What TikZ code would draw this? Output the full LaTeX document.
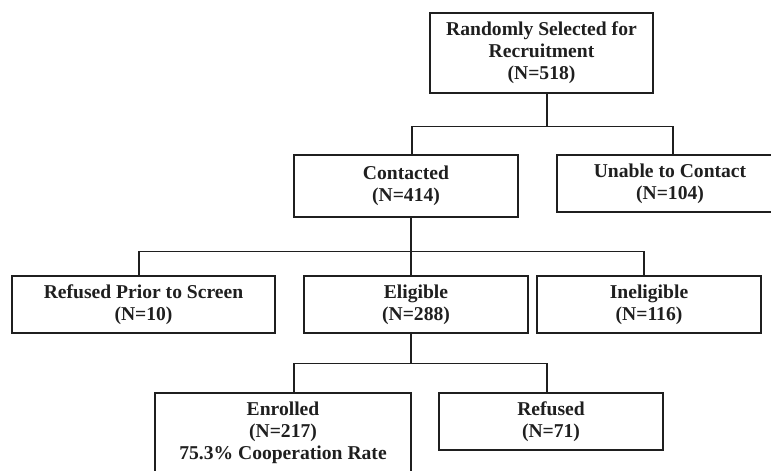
\documentclass[tikz,border=0pt]{standalone}
\usepackage{fontspec}
\setmainfont{Liberation Serif}
\usepackage{tikz}

\tikzset{
  flowbox/.style={draw, line width=1.2pt, align=center, inner sep=0pt,
    font=\fontsize{19.6}{22}\selectfont\bfseries},
  link/.style={line width=1.2pt}
}

\begin{document}
\begin{tikzpicture}[x=1pt, y=1pt, color={black!88}]
   \useasboundingbox (0,0) rectangle (771,-471);
   \clip (0,0) rectangle (771,-471);
   % boxes
   \node[flowbox, minimum width=223, minimum height=80] (selected) at (541.5,-53)
      {Randomly Selected for\\Recruitment\\(N=518)};
   \node[flowbox, minimum width=224, minimum height=62] (contacted) at (406,-186)
      {Contacted\\(N=414)};
   \node[flowbox, minimum width=226, minimum height=57] (unable) at (670,-183.5)
      {Unable to Contact\\(N=104)};
   \node[flowbox, minimum width=263, minimum height=57] (prior) at (143.5,-304.5)
      {Refused Prior to Screen\\(N=10)};
   \node[flowbox, minimum width=224, minimum height=57] (eligible) at (416,-304.5)
      {Eligible\\(N=288)};
   \node[flowbox, minimum width=224, minimum height=57] (ineligible) at (649,-304.5)
      {Ineligible\\(N=116)};
   \node[flowbox, minimum width=256, minimum height=80] (enrolled) at (283,-433)
      {Enrolled\\(N=217)\\75.3\% Cooperation Rate};
   \node[flowbox, minimum width=224, minimum height=57] (refused) at (551,-421.5)
      {Refused\\(N=71)};
   % connectors
   \draw[link] ([xshift=5.5]selected.south) -- ++(0,-33) coordinate (split1);
   \draw[link] ([xshift=6]contacted.north) |- (split1) -| ([xshift=3]unable.north);
   \draw[link] ([xshift=5]contacted.south) -- ++(0,-34) coordinate (split2);
   \draw[link] ([xshift=-4.5]prior.north) |- (split2) -| ([xshift=-5]ineligible.north);
   \draw[link] (split2) -- ([xshift=-5]eligible.north);
   \draw[link] ([xshift=-5]eligible.south) -- ++(0,-30) coordinate (split3);
   \draw[link] ([xshift=11]enrolled.north) |- (split3) -| ([xshift=-4]refused.north);
  \end{tikzpicture}
\end{document}
